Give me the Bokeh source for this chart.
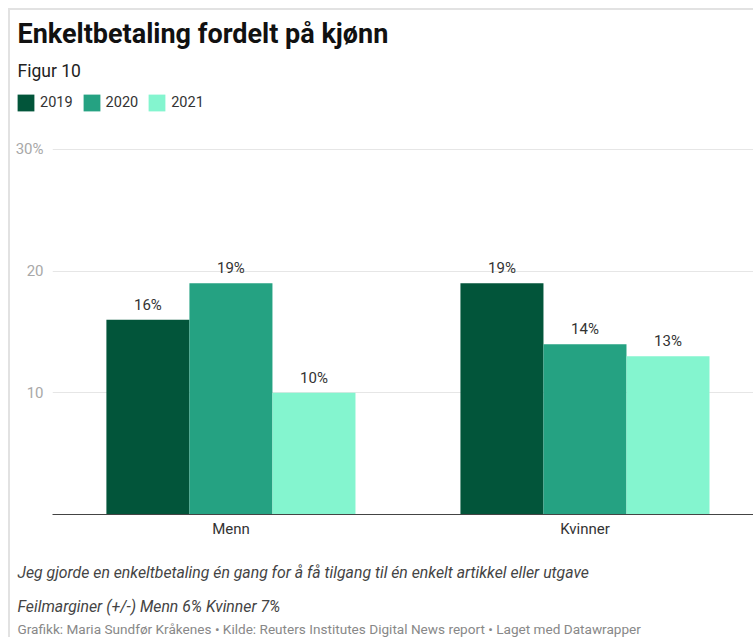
from bokeh.plotting import figure
from bokeh.layouts import column
from bokeh.models import (ColumnDataSource, Range1d, FixedTicker, Label, LabelSet,
                          Legend, LegendItem)
from bokeh.core.properties import value
from bokeh.transform import dodge
from bokeh.embed import file_html
from bokeh.resources import INLINE

# ---- data ----
categories = ["Menn", "Kvinner"]
years = ["2019", "2020", "2021"]
v2019 = [16, 19]
v2020 = [19, 14]
v2021 = [10, 13]
y_ticks = [10, 20, 30]
y_tick_labels = ["10", "20", "30%"]

title = "Enkeltbetaling fordelt på kjønn"
subtitle = "Figur 10"
note1 = "Jeg gjorde en enkeltbetaling én gang for å få tilgang til én enkelt artikkel eller utgave"
note2 = "Feilmarginer (+/-) Menn 6% Kvinner 7%"
credits = "Grafikk: Maria Sundfør Kråkenes • Kilde: Reuters Institutes Digital News report • Laget med Datawrapper"

colors = ["#02553a", "#25a282", "#84f5cf"]
FONT = "Roboto"
W = 753
BORDER = "#e2e2e2"


def bg_lines(top_line):
    imgs = [f"linear-gradient({BORDER},{BORDER})"]
    sizes = ["2px 100%"]
    poss = ["8px 8px" if top_line else "8px 0px"]
    if top_line:
        imgs.append(f"linear-gradient({BORDER},{BORDER})")
        sizes.append("100% 2px")
        poss.append("8px 8px")
    return {"background-image": ", ".join(imgs),
            "background-size": ", ".join(sizes),
            "background-position": ", ".join(poss),
            "background-repeat": "no-repeat"}


def text_fig(h, top_line):
    f = figure(width=W, height=h, x_range=Range1d(0, 1), y_range=Range1d(0, 1),
               x_axis_type=None, y_axis_type=None, output_backend="svg",
               toolbar_location=None, min_border=0, outline_line_color=None,
               background_fill_alpha=0, border_fill_alpha=0)
    f.frame_align = False
    f.styles = bg_lines(top_line)
    return f


def txt(f, s, x, y, size, color, style="normal"):
    f.add_layout(Label(x=x, y=y, x_units="screen", y_units="screen", text=s,
                       text_font=FONT, text_font_size=size, text_color=color,
                       text_font_style=style, text_baseline="middle",
                       text_align="left"))


# ---- shared source ----
x_idx = list(range(len(categories)))
data = dict(x=x_idx, cat=categories)
for yr, vals in zip(years, [v2019, v2020, v2021]):
    data["v" + yr] = vals
    data["l" + yr] = [f"{v}%" for v in vals]
src = ColumnDataSource(data)

# ---- header ----
H1 = 125
head = text_fig(H1, True)
txt(head, title, 17, H1 - 33, "27px", "#111111", "bold")
txt(head, subtitle, 17, H1 - 70, "17.5px", "#222222")
swatches = []
for yr, c in zip(years, colors):
    r = head.vbar(x="x", top="v" + yr, width=0.5, fill_color=c, line_color=None, source=src)
    r.visible = False
    swatches.append(r)
legend = Legend(items=[LegendItem(label=yr, renderers=[r]) for yr, r in zip(years, swatches)],
                orientation="horizontal", location=(15, H1 - 113),
                glyph_width=21, glyph_height=21, label_standoff=4, spacing=8,
                padding=0, margin=0, border_line_color=None,
                background_fill_alpha=0, label_text_font=FONT,
                label_text_font_size="14.5px", label_text_color="#333333",
                label_height=21)
head.add_layout(legend)

# ---- main chart ----
H2 = 415
p = figure(width=W, height=H2,
           x_range=Range1d(-0.504, 1.476), y_range=Range1d(0, 30.82),
           output_backend="svg", toolbar_location=None,
           min_border_left=52, min_border_right=0,
           min_border_top=14, min_border_bottom=26,
           outline_line_color=None,
           background_fill_alpha=0, border_fill_alpha=0)
p.frame_align = False
p.styles = bg_lines(False)

bw = 0.2345
offsets = [-bw, 0.0, bw]
for yr, off, col in zip(years, offsets, colors):
    p.vbar(x=dodge("x", off, range=p.x_range), top="v" + yr, width=bw,
           fill_color=col, line_color=None, source=src)
    p.add_layout(LabelSet(x=dodge("x", off, range=p.x_range), y="v" + yr,
                          text="l" + yr, source=src, text_align="center",
                          text_baseline="middle", y_offset=15,
                          text_font=value(FONT), text_font_size=value("15px"),
                          text_color="#333333"))

p.xaxis.ticker = FixedTicker(ticks=x_idx)
p.xaxis.major_label_overrides = {i: c for i, c in zip(x_idx, categories)}
p.xaxis.axis_line_color = "#444444"
p.xaxis.axis_line_width = 1
p.xaxis.major_tick_line_color = None
p.xaxis.minor_tick_line_color = None
p.xaxis.major_tick_out = 0
p.xaxis.major_tick_in = 0
p.xaxis.minor_tick_out = 0
p.xaxis.major_label_text_font = FONT
p.xaxis.major_label_text_font_size = "15px"
p.xaxis.major_label_text_color = "#333333"
p.xaxis.major_label_standoff = 5

p.yaxis.ticker = FixedTicker(ticks=y_ticks)
p.yaxis.major_label_overrides = {t: l for t, l in zip(y_ticks, y_tick_labels)}
p.yaxis.axis_line_color = None
p.yaxis.major_tick_line_color = None
p.yaxis.minor_tick_line_color = None
p.yaxis.major_tick_out = 0
p.yaxis.major_tick_in = 0
p.yaxis.minor_tick_out = 0
p.yaxis.major_label_text_font = FONT
p.yaxis.major_label_text_font_size = "15px"
p.yaxis.major_label_text_color = "#a8a8a8"
p.yaxis.major_label_standoff = 9

p.xgrid.grid_line_color = None
p.ygrid.grid_line_color = "#e6e6e6"
p.ygrid.grid_line_width = 1

# ---- footer ----
H3 = 637 - H1 - H2
foot = text_fig(H3, False)
txt(foot, note1, 17, H3 - 32, "15.8px", "#444444", "italic")
txt(foot, note2, 17, H3 - 66, "15.8px", "#444444", "italic")
txt(foot, credits, 17, H3 - 88, "13.6px", "#888888")

layout = column(head, p, foot, spacing=0)
open("out.html", "w").write(file_html(layout, INLINE))
